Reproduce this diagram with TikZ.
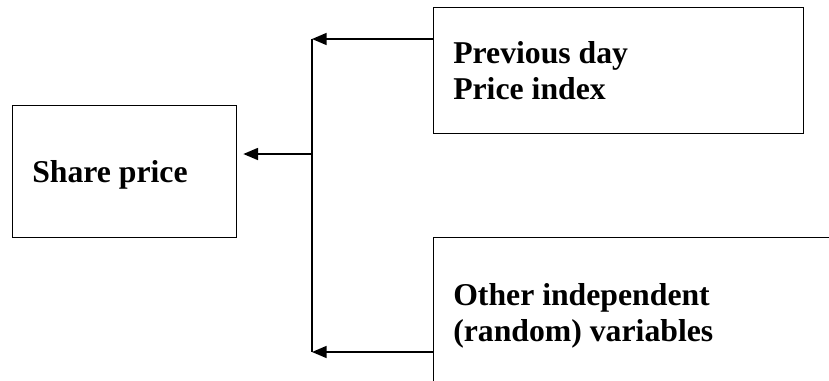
\documentclass[tikz,border=0pt]{standalone}
\usepackage{fontspec}
\setmainfont{Liberation Serif}
\usetikzlibrary{arrows.meta}
\begin{document}
\begin{tikzpicture}[x=0.75pt,y=-0.75pt,
  box/.style={draw, line width=1pt, inner sep=0pt, anchor=north west},
  lbl/.style={inner sep=0pt, align=left, font=\fontsize{23.8}{27}\selectfont\bfseries},
  conn/.style={line width=1.2pt},
  arr/.style={conn, -{Triangle[length=11pt,width=9pt]}}]
\useasboundingbox (0,0) rectangle (829,380);
\clip (0,0) rectangle (829,380);
% boxes
\node[box, minimum width=168pt, minimum height=99pt] (share) at (12,105) {};
\node[box, minimum width=277.5pt, minimum height=94.5pt] (top) at (433,7) {};
\node[box, minimum width=330pt, minimum height=160pt] (bot) at (433,237) {};
% texts
\node[lbl, anchor=base west] (sharet) at (32,182) {Share price};
\node[lbl, anchor=north west] (topt) at (453,41.5) {Previous day\\Price index};
\node[lbl, anchor=north west] (bott) at (453,283.5) {Other independent\\(random) variables};
% junctions
\coordinate (jt) at (312,39);
\coordinate (jm) at (312,154);
\coordinate (jb) at (312,352);
% connectors
\draw[arr] (top.west |- jt) -- (jt);
\draw[conn] (jt) -- (jb);
\draw[arr] (bot.west |- jb) -- (jb);
\draw[arr, shorten >=4.5pt] (jm) -- (share.east |- jm);
\end{tikzpicture}
\end{document}
